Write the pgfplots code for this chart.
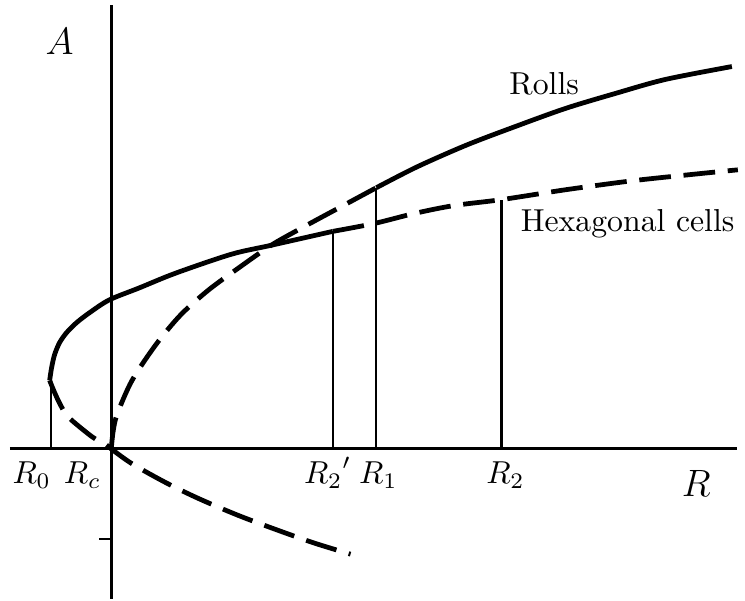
\documentclass[border=0pt]{standalone}
\usepackage{pgfplots}
\pgfplotsset{compat=1.18}
\begin{document}
\begin{tikzpicture}
\begin{axis}[
    width=233pt, height=188.6pt, scale only axis,
    xmin=-112, xmax=633, ymin=-151, ymax=452,
    axis lines=none, clip=false,
    solidbranch/.style={black, line width=1.5pt, no marks},
    dashedbranch/.style={black, line width=1.5pt, no marks, dash pattern=on 10pt off 4pt},
    marker line/.style={black, line width=0.7pt, no marks},
]
% frame of the picture
\addplot[draw=none] coordinates {(-112,-151) (633,452)};
% axes
\addplot[black, line width=1pt, no marks] coordinates {(-102,0) (630,0)};
\addplot[black, line width=1pt, no marks] coordinates {(0,-151) (0,447)};
\addplot[marker line] coordinates {(-12,-91) (0,-91)};
% hexagonal cells, stable branch
\addplot[solidbranch, smooth] coordinates {
    (-62,69) (-60,82) (-57,95) (-52,107) (-45,117) (-35,127) (-22,137)
    (-2,150) (28,162) (65,177) (121,196) (161,205) (223,219)
};
% hexagonal cells, unstable continuation
\addplot[dashedbranch, smooth] coordinates {
    (223,219) (265,227) (305,237) (345,245) (393,251) (458,261)
    (525,270) (591,277) (631,281)
};
% hexagonal cells, lower branch
\addplot[dashedbranch, smooth] coordinates {
    (-62,69) (-58,59) (-53,48) (-47,37) (-40,29) (-19,12) (-5,4) (0,0)
    (21,-15) (55,-34) (88,-50) (128,-67) (168,-82) (205,-95) (241,-106)
};
% rolls, unstable part
\addplot[dashedbranch, smooth] coordinates {
    (0,0) (2,18) (6,35) (21,69) (45,105) (70,135) (98,160) (128,182)
    (161,205) (191,222) (228,242) (267,263)
};
% rolls, stable part
\addplot[solidbranch, smooth] coordinates {
    (267,263) (308,284) (358,306) (408,325) (458,343) (508,358)
    (558,372) (625,385)
};
% vertical markers
\addplot[marker line] coordinates {(-61,0) (-61,69)};
\addplot[marker line] coordinates {(223,0) (223,219)};
\addplot[marker line] coordinates {(267,0) (267,263)};
\addplot[marker line] coordinates {(393,0) (393,251)};
% labels
\node[anchor=base] at (-80,-35) {$R_0$};
\node[anchor=base] at (-29,-35) {$R_c$};
\node[anchor=base] at (218,-35) {${R_2}'$};
\node[anchor=base] at (269,-35) {$R_1$};
\node[anchor=base] at (397,-35) {$R_2$};
\node[anchor=base] at (589,-48) {\large $R$};
\node[anchor=base] at (-52,397) {\large $A$};
\node[anchor=base] at (436,357) {Rolls};
\node[anchor=base] at (520,219) {Hexagonal cells};
\end{axis}
\end{tikzpicture}
\end{document}
